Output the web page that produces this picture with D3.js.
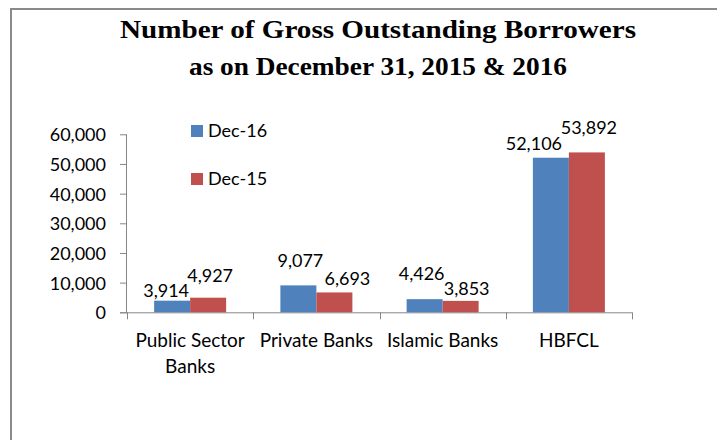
<!DOCTYPE html>
<html>
<head>
<meta charset="utf-8">
<script src="https://cdn.jsdelivr.net/npm/d3@7"></script>
<style>
  html, body { margin: 0; padding: 0; background: #fff; }
  svg { display: block; }
  .lbl { font-family: Lato, "Liberation Sans", sans-serif; font-size: 18px; fill: #000; }
  .cat { font-size: 19px; }
  .title { font-family: "Liberation Serif", "DejaVu Serif", serif; font-weight: bold; font-size: 26px; fill: #000; }
</style>
</head>
<body>
<script>
// Borrowers by lender type, year-end 2016 vs 2015
const categories = ["Public Sector Banks", "Private Banks", "Islamic Banks", "HBFCL"];
const seriesNames = ["Dec-16", "Dec-15"];
const dec16 = [3914, 9077, 4426, 52106];
const dec15 = [4927, 6693, 3853, 53892];
const yTicks = [0, 10000, 20000, 30000, 40000, 50000, 60000];
const titleLines = ["Number of Gross Outstanding Borrowers", "as on December 31, 2015 & 2016"];

// Value-label nudges [dx, dy] from the default spot (bar centre, just above bar top)
const labelNudge16 = [[-6, 0], [2, -14], [-3, -15], [-17, -4]];
const labelNudge15 = [[2, -12], [13, -3], [6, -2], [2, -14]];

const W = 717, H = 440;
const colors = ["#4F81BD", "#C0504D"];
const axisColor = "#868686";

const svg = d3.select("body").append("svg").attr("width", W).attr("height", H);

// outer chart frame (runs past the right and bottom edges)
svg.append("path")
  .attr("d", `M11,${H + 5} L11,9 L${W + 5},9`)
  .attr("fill", "none").attr("stroke", "#8a8a8a").attr("stroke-width", 2);

// title, two centred lines
const titleWidths = [516, 378];
svg.selectAll("text.title").data(titleLines).join("text").attr("class", "title")
  .attr("text-anchor", "middle")
  .attr("x", 378).attr("y", (d, i) => 38 + i * 37)
  .attr("textLength", (d, i) => titleWidths[i])
  .attr("lengthAdjust", "spacingAndGlyphs")
  .text(d => d);

const plot = { left: 127, right: 632, top: 134.3, bottom: 312.3 };

const x = d3.scaleBand().domain(categories).range([plot.left, plot.right]).padding(0);
const y = d3.scaleLinear().domain([0, 60000]).range([plot.bottom, plot.top]);
const barW = 36;

// y axis
const yAxis = svg.append("g").attr("transform", `translate(${plot.left},0)`)
  .call(d3.axisLeft(y).tickValues(yTicks).tickSize(7).tickPadding(14)
    .tickFormat(d3.format(",")));
yAxis.select(".domain").attr("stroke", axisColor).attr("d", `M-0.5,${plot.bottom}V${plot.top}`);
yAxis.selectAll(".tick line").attr("stroke", axisColor);
yAxis.selectAll(".tick text").attr("class", "lbl").attr("fill", "#000").attr("dy", "0.36em");

// x axis line and category boundary ticks
const xg = svg.append("g");
xg.append("line").attr("x1", plot.left - 7).attr("x2", plot.right)
  .attr("y1", plot.bottom + 0.5).attr("y2", plot.bottom + 0.5).attr("stroke", axisColor);
const bounds = categories.map(c => x(c)).concat([x.range()[1]]);
xg.selectAll("line.tk").data(bounds).join("line").attr("class", "tk")
  .attr("x1", d => Math.round(d) + 0.5).attr("x2", d => Math.round(d) + 0.5)
  .attr("y1", plot.bottom).attr("y2", plot.bottom + 7).attr("stroke", axisColor);

// category labels, wrapped as in the source
const catLines = {
  "Public Sector Banks": ["Public Sector", "Banks"],
  "Private Banks": ["Private Banks"],
  "Islamic Banks": ["Islamic Banks"],
  "HBFCL": ["HBFCL"]
};
categories.forEach(c => {
  const t = xg.append("text").attr("class", "lbl cat").attr("text-anchor", "middle");
  catLines[c].forEach((ln, i) => {
    t.append("tspan").attr("x", x(c) + x.bandwidth() / 2).attr("y", 347 + i * 26).text(ln);
  });
});

// bars
const series = [dec16, dec15];
const nudges = [labelNudge16, labelNudge15];
series.forEach((vals, s) => {
  const g = svg.append("g");
  g.selectAll("rect").data(vals).join("rect")
    .attr("x", (d, i) => x(categories[i]) + x.bandwidth() / 2 - barW + s * barW)
    .attr("width", barW)
    .attr("y", d => y(d))
    .attr("height", d => y(0) - y(d))
    .attr("fill", colors[s]);
  g.selectAll("text").data(vals).join("text").attr("class", "lbl")
    .attr("text-anchor", "middle")
    .attr("x", (d, i) => x(categories[i]) + x.bandwidth() / 2 - barW / 2 + s * barW + nudges[s][i][0])
    .attr("y", (d, i) => y(d) - 4 + nudges[s][i][1])
    .text(d => d3.format(",")(d));
});

// legend
const leg = svg.append("g");
seriesNames.forEach((n, i) => {
  leg.append("rect").attr("x", 191).attr("y", 125 + i * 48).attr("width", 12).attr("height", 12)
    .attr("fill", colors[i]);
  leg.append("text").attr("class", "lbl").attr("x", 208).attr("y", 137 + i * 48).text(n);
});
</script>
</body>
</html>
